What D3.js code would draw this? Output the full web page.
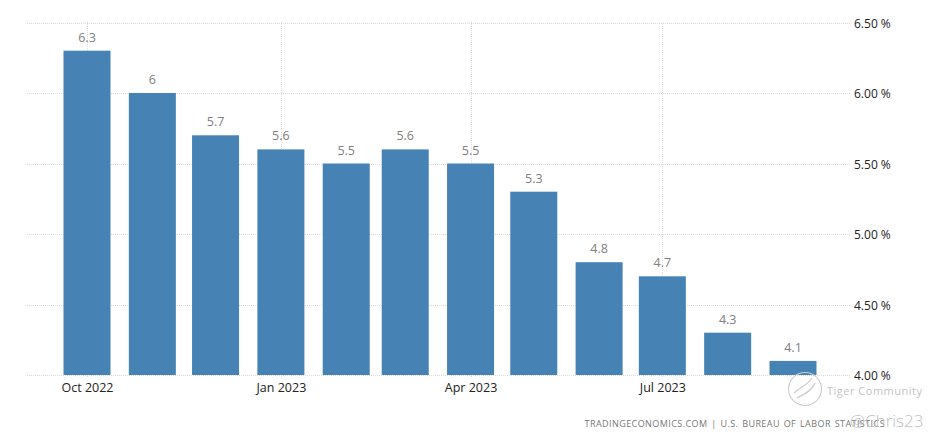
<!DOCTYPE html>
<html><head><meta charset="utf-8">
<script src="https://cdn.jsdelivr.net/npm/d3@7/dist/d3.min.js"></script>
<style>html,body{margin:0;padding:0;background:#fff}svg{display:block}text{font-family:"Open Sans",sans-serif}</style>
</head><body><svg id="c" width="940" height="442"></svg>
<script>
const months=["2022-10-01","2022-11-01","2022-12-01","2023-01-01","2023-02-01","2023-03-01","2023-04-01","2023-05-01","2023-06-01","2023-07-01","2023-08-01","2023-09-01"];
const values=[6.3,6,5.7,5.6,5.5,5.6,5.5,5.3,4.8,4.7,4.3,4.1];
const valueLabels=["6.3","6","5.7","5.6","5.5","5.6","5.5","5.3","4.8","4.7","4.3","4.1"];
const yTicks=[4,4.5,5,5.5,6,6.5];
const xTickMonths=["2022-10-01","2023-01-01","2023-04-01","2023-07-01"];
const parse=d3.utcParse("%Y-%m-%d");
const svg=d3.select("#c");
const x=d3.scaleUtc().domain([parse(months[0]),parse(months[11])]).range([87,793]);
const y=d3.scaleLinear().domain([4,6.5]).range([375,22.5]);
const barW=47;
const cx=m=>x(parse(m));
const grid=svg.append("g");
grid.selectAll("line.h").data(yTicks).join("line").attr("class","h").attr("x1",27).attr("x2",851).attr("y1",d=>Math.round(y(d))+.5).attr("y2",d=>Math.round(y(d))+.5).attr("stroke","#dcdcdc").attr("stroke-dasharray","1,1");
grid.selectAll("line.v").data(xTickMonths).join("line").attr("class","v").attr("x1",d=>Math.round(cx(d))+.5).attr("x2",d=>Math.round(cx(d))+.5).attr("y1",22).attr("y2",378).attr("stroke","#dcdcdc").attr("stroke-dasharray","1,1");
svg.selectAll("rect.b").data(months).join("rect").attr("class","b").attr("x",d=>cx(d)-barW/2).attr("width",barW).attr("y",(d,i)=>y(values[i])).attr("height",(d,i)=>y(4)-y(values[i])).attr("fill","#4682b4");
svg.selectAll("text.v").data(months).join("text").attr("class","v").attr("x",cx).attr("y",(d,i)=>y(values[i])-9).attr("text-anchor","middle").attr("font-size",12.5).attr("fill","#808080").text((d,i)=>valueLabels[i]);
const xa=svg.append("g").attr("transform","translate(0,375)").call(d3.axisBottom(x).tickValues(xTickMonths.map(parse)).tickSize(0).tickPadding(8).tickFormat(d3.utcFormat("%b %Y")));
xa.select(".domain").remove();
xa.selectAll("text").attr("font-size",12.5).attr("fill","#222").style("font-family",'"Open Sans",sans-serif').style("font-weight",500);
const ya=svg.append("g").attr("transform","translate(854,1)").call(d3.axisRight(y).tickValues(yTicks).tickSize(0).tickPadding(0).tickFormat(d=>d3.format(".2f")(d)+" %"));
ya.select(".domain").remove();
ya.selectAll("text").attr("font-size",12).attr("fill","#222").style("font-family",'"Open Sans",sans-serif').style("font-weight",500);
svg.append("text").attr("x",885).attr("y",427).attr("text-anchor","end").attr("font-size",9).attr("fill","#777").attr("letter-spacing",0.43).attr("word-spacing",1).text("TRADINGECONOMICS.COM | U.S. BUREAU OF LABOR STATISTICS");
svg.append("text").attr("x",827).attr("y",395).attr("font-size",11).attr("letter-spacing",0.5).attr("fill","#c4c4c4").text("Tiger Community");
svg.append("text").attr("x",850).attr("y",427).attr("font-size",17).attr("font-weight",300).attr("fill","#c0c0c0").text("@Chris23");
const lg=svg.append("g").attr("transform","translate(805,389)").attr("fill","none").attr("stroke","#cfcfcf");
lg.append("circle").attr("r",16.5).attr("stroke-width",1.2);
lg.append("path").attr("d","M-11,4 C-5,-2 3,-4 7,-11 M-8,9 C-2,6 7,2 10,-6").attr("stroke-width",1.3);
</script></body></html>
